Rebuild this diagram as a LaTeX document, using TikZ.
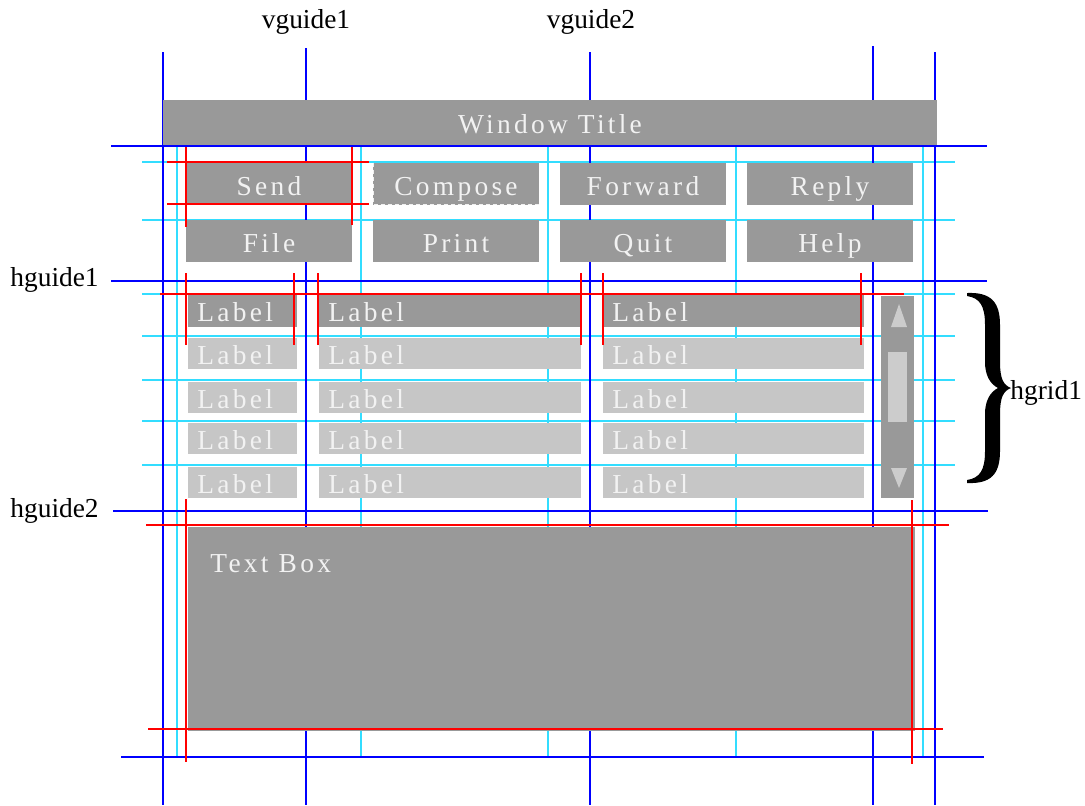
\documentclass[tikz,border=0pt]{standalone}
\usepackage{fontspec}
\setmainfont{Liberation Serif}
\newfontfamily\uifont[LetterSpace=12]{Liberation Serif}
\usepackage{tikz}
\definecolor{guideblue}{RGB}{0,0,255}
\definecolor{gridcyan}{RGB}{51,221,255}
\definecolor{boxgray}{RGB}{153,153,153}
\definecolor{celllight}{RGB}{198,198,198}
\definecolor{thumbgray}{RGB}{204,204,204}
\definecolor{uitext}{RGB}{242,242,242}

\begin{document}
\begin{tikzpicture}[x=0.5pt, y=-0.5pt, every node/.style={font=\fontsize{13.7}{16}\selectfont, inner sep=0pt},
  guideline/.style={draw=guideblue, line width=1pt},
  gridline/.style={draw=gridcyan, line width=1pt},
  redline/.style={draw=red, line width=1pt},
  btn/.style={fill=boxgray, text=uitext, font=\uifont\fontsize{13.7}{16}\selectfont, minimum width=83pt, minimum height=21pt, text height=11pt, text depth=0pt},
  lbl/.style={text=uitext, font=\uifont\fontsize{13.7}{16}\selectfont, anchor=base west}]
\useasboundingbox (0,0) rectangle (1085,805);
\foreach \x in {177,361,548,736,923} \draw[gridline] (\x,146) -- (\x,757);
\foreach \y in {162,220,294,336,380,421,465} \draw[gridline] (142,\y) -- (955,\y);
\foreach \x/\t in {163/52,306/48,590/52,873/46,935/52} \draw[guideline] (\x,\t) -- (\x,805);
\foreach \y/\a/\b in {146/111/987,281/111/987,511/113/988,757/121/984} \draw[guideline] (\a,\y) -- (\b,\y);
\node[btn, minimum width=387pt, minimum height=22.5pt] (title) at (550,122.5) {Window Title};
\foreach \t [count=\i from 0] in {Send,Compose,Forward,Reply}
  \node[btn] (\t) at (269+187*\i,184) {\t};
\foreach \t [count=\i from 0] in {File,Print,Quit,Help}
  \node[btn] (\t) at (269+187*\i,241) {\t};
\draw[white!85!boxgray, line width=0.5pt, dash pattern=on 2pt off 1.5pt] ([xshift=0.5pt]Compose.north west) -- ([shift={(0.5pt,0.5pt)}]Compose.south west) -- ([yshift=0.5pt]Compose.south east);
\foreach \a/\b [count=\c] in {188/297,319/581,603/864} {
  \fill[boxgray] (\a,295) rectangle (\b,327);
  \node[lbl] (l1\c) at (\a+9,321) {Label};
  \foreach \y [count=\r from 2] in {338,382,423,467} {
    \fill[celllight] (\a,\y) rectangle (\b,\y+31);
    \node[lbl] (l\r\c) at (\a+9,\y+26) {Label};
  }
}
\fill[boxgray] (881,296) rectangle (914,498);
\fill[thumbgray] (899,304) -- (907,327) -- (891,327) -- cycle;
\fill[thumbgray] (888,352) rectangle (907,422);
\fill[thumbgray] (891,468) -- (907,468) -- (899,488) -- cycle;
\node[fill=boxgray, minimum width=363.5pt, minimum height=102pt, anchor=north west] (textbox) at (188,527) {};
\node[lbl] (tbtext) at (210,572) {Text Box};
\draw[redline] (167,162) -- (369,162) (167,204) -- (369,204) (186,147) -- (186,227) (352,147) -- (352,225);
\draw[redline] (160,294) -- (904,294);
\foreach \x in {186,294,318,581,603,861} \draw[redline] (\x,273) -- (\x,345);
\draw[redline] (146,525) -- (949,525) (148,729) -- (943,729) (186,499) -- (186,762) (912,500) -- (912,764);
\fill (967,293) .. controls (991,292) and (1000,302) .. (1000,325) -- (1000,362) .. controls (1000,378) and (1003,385) .. (1011,388)
  .. controls (1003,391) and (1000,398) .. (1000,414) -- (1000,451) .. controls (1000,474) and (991,484) .. (967,483)
  -- (967,480) .. controls (980,478) and (985,470) .. (985,451) -- (985,414) .. controls (985,401) and (990,392) .. (998,388)
  .. controls (990,384) and (985,375) .. (985,362) -- (985,325) .. controls (985,306) and (980,298) .. (967,296) -- cycle;
\node[anchor=base west] (hgrid) at (1010,399) {hgrid1};
\node[anchor=base] (vguide1) at (306,28) {vguide1};
\node[anchor=base] (vguide2) at (591,28) {vguide2};
\node[anchor=base west] (hguide1) at (10,286) {hguide1};
\node[anchor=base west] (hguide2) at (10,517) {hguide2};
\end{tikzpicture}
\end{document}
